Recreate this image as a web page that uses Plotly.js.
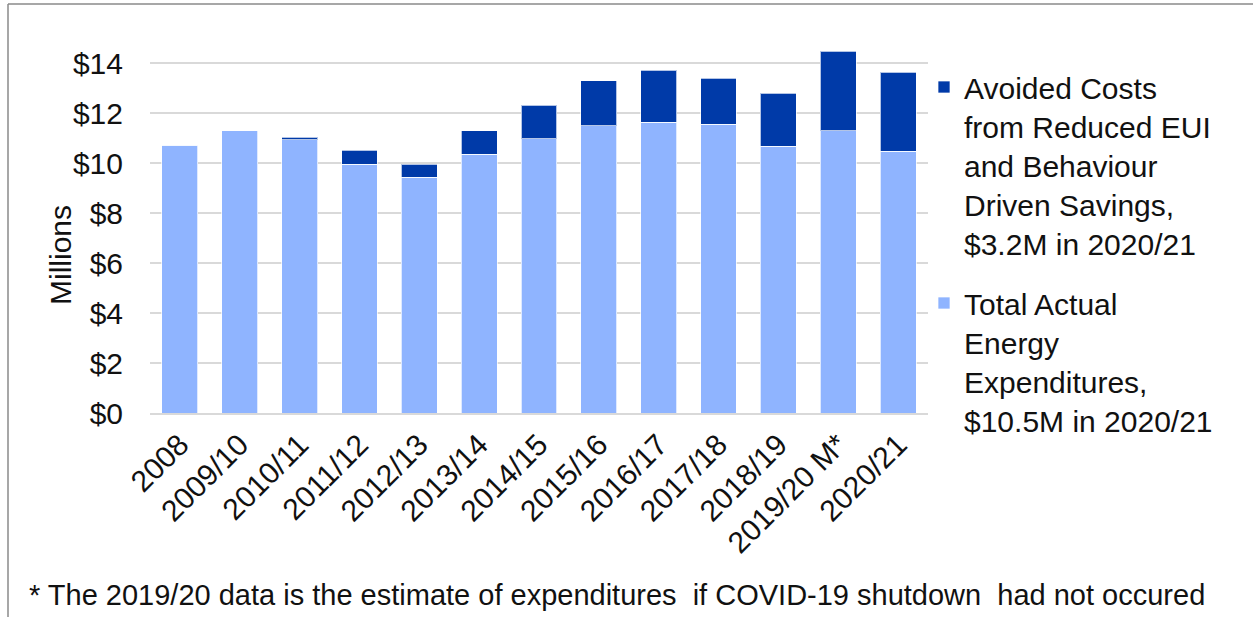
<!DOCTYPE html>
<html>
<head>
<meta charset="utf-8">
<script src="https://cdn.plot.ly/plotly-3.0.1.min.js"></script>
<style>
  html, body { margin: 0; padding: 0; background: #fff; }
  #chart { width: 1253px; height: 617px; }
</style>
</head>
<body>
<div id="chart"></div>
<script>
// ---- Data ($ millions) ----
const categories = ["2008", "2009/10", "2010/11", "2011/12", "2012/13", "2013/14", "2014/15",
                    "2015/16", "2016/17", "2017/18", "2018/19", "2019/20 M*", "2020/21"];
const actualExpenditures = [10.72, 11.29, 10.93, 9.95, 9.44, 10.36, 10.97, 11.49, 11.64, 11.55, 10.67, 11.29, 10.47];
const avoidedCosts       = [0, 0, 0.11, 0.57, 0.51, 0.93, 1.34, 1.80, 2.07, 1.84, 2.12, 3.18, 3.17];
const seriesNames = [
  "Total Actual<br>Energy<br>Expenditures,<br>$10.5M in 2020/21",
  "Avoided Costs<br>from Reduced EUI<br>and Behaviour<br>Driven Savings,<br>$3.2M in 2020/21"
];
const yTickValues = [0, 2, 4, 6, 8, 10, 12, 14];
const yTickLabels = ["$0", "$2", "$4", "$6", "$8", "$10", "$12", "$14"];
const yAxisTitle = "Millions";
const footnote = "* The 2019/20 data is the estimate of expenditures  if COVID-19 shutdown  had not occured";

const FONT = "'Liberation Sans', Arial, sans-serif";
const LIGHT = "#8FB4FF";
const DARK = "#003AA8";

const traces = [
  {
    type: "bar", x: categories, y: actualExpenditures, name: seriesNames[0],
    legendgroup: "a", legendrank: 2,
    marker: { color: LIGHT, line: { color: "rgba(255,255,255,0.7)", width: 1 } }
  },
  {
    type: "bar", x: categories, y: avoidedCosts, name: seriesNames[1],
    legendgroup: "b", legendrank: 1,
    marker: { color: DARK, line: { color: "rgba(255,255,255,0.7)", width: 1 } }
  }
];

// plot area in pixels: x 150..928, y 48..413
const L = 150, R = 928, T = 48, B = 413;
const px2x = p => (p - L) / (R - L);
const px2y = p => (B - p) / (B - T);

const layout = {
  width: 1253, height: 617,
  margin: { l: L, r: 1253 - R, t: T, b: 617 - B, pad: 0 },
  paper_bgcolor: "#fff", plot_bgcolor: "#fff",
  barmode: "stack", bargap: 0.4,
  font: { family: FONT, size: 30, color: "#111" },
  showlegend: true,
  legend: {
    x: px2x(924), xanchor: "left", y: px2y(61), yanchor: "top",
    font: { family: FONT, size: 30, color: "#111" },
    traceorder: "grouped", tracegroupgap: 18, valign: "top",
    maxheight: 560,
    bgcolor: "rgba(0,0,0,0)"
  },
  xaxis: {
    type: "category", tickangle: -45, ticks: "", showgrid: false,
    showline: true, linecolor: "#d9d9d9", linewidth: 2,
    tickfont: { family: FONT, size: 30, color: "#111" },
    automargin: false
  },
  yaxis: {
    range: [0, 14.6], tickmode: "array", tickvals: yTickValues, ticktext: yTickLabels,
    showgrid: true, gridcolor: "#d9d9d9", gridwidth: 2,
    zeroline: false, showline: false, ticks: "",
    ticklabelstandoff: 26,
    tickfont: { family: FONT, size: 30, color: "#111" },
    automargin: false
  },
  annotations: [
    {
      text: yAxisTitle, textangle: -90, xref: "paper", yref: "paper",
      x: px2x(60), y: px2y(255), xanchor: "center", yanchor: "middle",
      showarrow: false, font: { family: FONT, size: 30, color: "#111" }
    },
    {
      text: footnote, xref: "paper", yref: "paper",
      x: px2x(27), y: px2y(595), xanchor: "left", yanchor: "middle",
      showarrow: false, font: { family: FONT, size: 29, color: "#111" }
    }
  ],
  shapes: [
    { type: "line", xref: "paper", yref: "paper", x0: px2x(8), x1: px2x(8), y0: px2y(4), y1: px2y(640),
      line: { color: "#8a8a8a", width: 1.5 } },
    { type: "line", xref: "paper", yref: "paper", x0: px2x(8), x1: px2x(1260), y0: px2y(4), y1: px2y(4),
      line: { color: "#8a8a8a", width: 1.5 } }
  ]
};

Plotly.newPlot("chart", traces, layout, { staticPlot: true, displayModeBar: false });
</script>
</body>
</html>
